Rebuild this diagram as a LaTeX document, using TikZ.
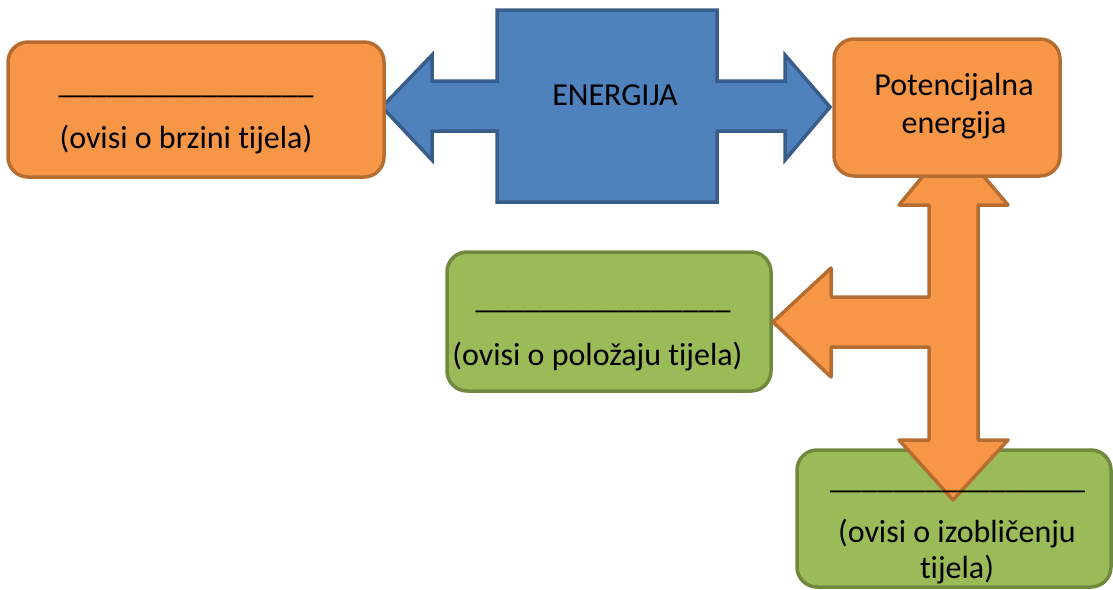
\documentclass[tikz,border=0pt]{standalone}
\usepackage{fontspec}
\usepackage{graphicx}
\setmainfont{Carlito}[Ligatures=NoCommon]
\definecolor{ofill}{HTML}{F79646}
\definecolor{oline}{HTML}{B66D31}
\definecolor{gfill}{HTML}{9BBB59}
\definecolor{gline}{HTML}{71893F}
\definecolor{bfill}{HTML}{4F81BD}
\definecolor{bline}{HTML}{385D8A}
\newcommand{\blankline}{\_\_\_\_\_\_\_\_\_\_\_\_\_\_\_\_}
\tikzset{
  obox/.style={rectangle, rounded corners=20pt, draw=oline, fill=ofill, line width=3.5pt, inner sep=0pt},
  gbox/.style={rectangle, rounded corners=20pt, draw=gline, fill=gfill, line width=3.5pt, inner sep=0pt},
  blockarrowB/.style={draw=bline, fill=bfill, line width=3.5pt, line join=miter},
  blockarrowO/.style={draw=oline, fill=ofill, line width=3.5pt, line join=round},
  txt/.style={inner sep=0pt, anchor=base, font=\fontsize{32}{38}\selectfont, text=black}
}
\begin{document}
\begin{tikzpicture}[x=1pt,y=-1pt]
\useasboundingbox (0,0) rectangle (1113,589);
\clip (0,0) rectangle (1113,589);
% blue central shape with double arrow
\draw[blockarrowB] (382,107) -- (432,55) -- (432,81) -- (497,81) -- (497,10) -- (717,10) -- (717,81)
  -- (785,81) -- (785,55) -- (830,107) -- (785,160) -- (785,131) -- (717,131) -- (717,202)
  -- (497,202) -- (497,131) -- (432,131) -- (432,160) -- cycle;
\node[txt] (energ) at (615,105) {ENERGIJA};
% boxes
\node[obox, minimum width=376pt, minimum height=135pt] (kin) at (196,109.5) {};
\node[gbox, minimum width=324pt, minimum height=139pt] (grav) at (609,321.5) {};
\node[gbox, minimum width=314pt, minimum height=137pt] (elast) at (954,518.5) {};
% orange T arrow
\draw[blockarrowO] (953,140) -- (1008,205) -- (978,205) -- (978,440) -- (1008,440) -- (953,500)
  -- (899,440) -- (929,440) -- (929,347) -- (831,347) -- (831,377) -- (773,322) -- (831,268)
  -- (831,297) -- (929,297) -- (929,205) -- (899,205) -- cycle;
\node[obox, minimum width=226pt, minimum height=137pt] (pot) at (947,107.5) {};
% texts
\node[txt] (kinA) at (186,93.5) {\blankline};
\node[txt] (kinB) at (186,148) {(ovisi o brzini tijela)};
\node[txt] (potA) at (954,95) {Potencijalna};
\node[txt] (potB) at (954,133) {energija};
\node[txt] (gravA) at (603,308.5) {\blankline};
\node[txt] (gravB) at (597.5,365) {(ovisi o položaju tijela)};
\node[txt] (elastA) at (957.5,488.5) {\blankline};
\node[txt] (elastB) at (957,542) {(ovisi o izobličenju};
\node[txt] (elastC) at (957,578) {tijela)};
\end{tikzpicture}
\end{document}
